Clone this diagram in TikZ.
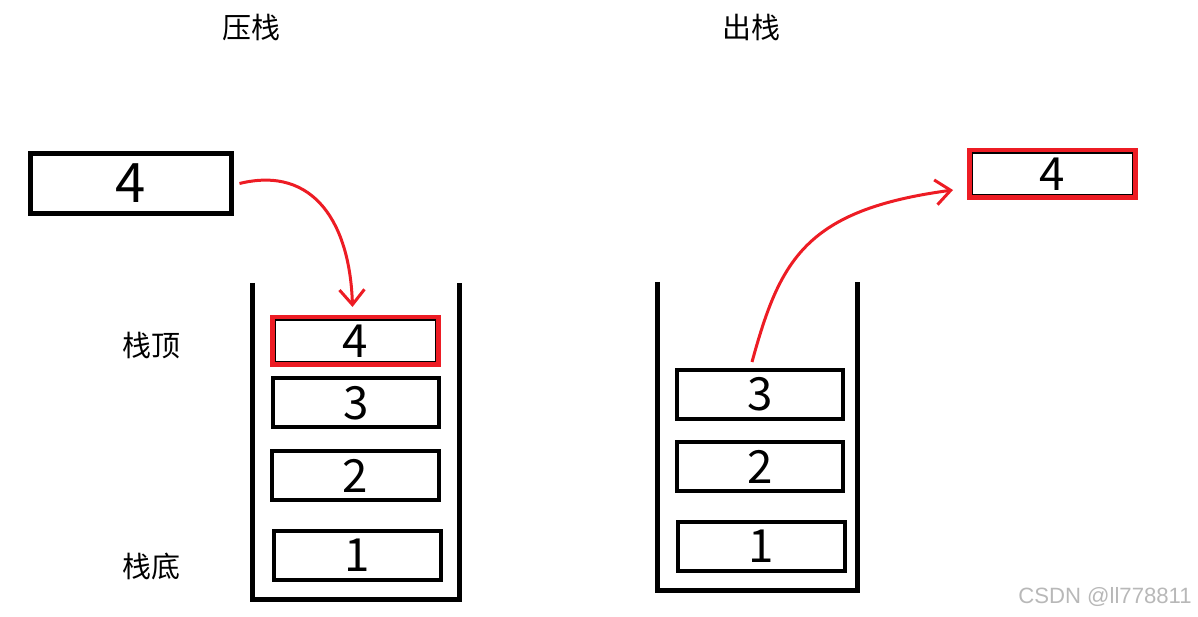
\documentclass[tikz,border=0pt]{standalone}
\usepackage{fontspec}
\usepackage{tikz}
\usetikzlibrary{arrows.meta,positioning,calc}
\usepackage{xcolor}
\newfontfamily\cjk{Noto Sans CJK SC}
\newfontfamily\wmfont{Liberation Sans}
\definecolor{paintred}{RGB}{237,28,36}
\tikzset{
  cell/.style    ={draw, minimum width=3.34cm, minimum height=0.98cm,
                   inner sep=0pt, line width=0.08cm,
                   font=\cjk\fontsize{26}{28}\selectfont},
  topcell/.style ={draw=paintred, minimum width=3.33cm, minimum height=0.95cm,
                   inner sep=0pt, line width=0.09cm,
                   font=\cjk\fontsize{26}{28}\selectfont,
                   path picture={\draw[black, line width=0.03cm]
                     ([shift={(0.055cm,-0.055cm)}]path picture bounding box.north west)
                     rectangle
                     ([shift={(-0.055cm,0.055cm)}]path picture bounding box.south east);}},
  inbox/.style   ={draw, minimum width=4.04cm, minimum height=1.2cm,
                   inner sep=0pt, line width=0.1cm,
                   font=\cjk\fontsize{31}{33}\selectfont},
  wall/.style    ={line width=0.1cm},
  mv/.style      ={-{Straight Barb[length=3mm,width=5mm]}, line width=0.06cm,
                   paintred},
  capt/.style    ={font=\cjk\fontsize{16.5}{18}\selectfont},
  lab/.style     ={font=\cjk\fontsize{16.5}{18}\selectfont},
  wmark/.style   ={font=\wmfont\fontsize{12.6}{14}\selectfont, text=black!28},
}
\begin{document}
\begin{tikzpicture}[x=0.02cm, y=-0.02cm]
  \useasboundingbox (0,0) rectangle (1198,617);
  % push side
  \node[capt] (pushT) at (251.5,27.5) {压栈};
  \node[inbox] (in4) at (131,183.5) {4};
  \draw[wall] (252.5,283) |- (459.5,599.5) -- (459.5,283);
  \node[topcell] (l4) at (355.5,341) {4};
  \node[cell] (l3) at (356,403) {3};
  \node[cell] (l2) at (355.5,476) {2};
  \node[cell] (l1) at (357.5,555.5) {1};
  \node[lab] (topL) at (151.5,346) {栈顶};
  \node[lab] (botL) at (151.5,566.5) {栈底};
  \coordinate (pushS) at ($(in4.east)+(5,0)$);
  \coordinate (pushE) at ($(l4.north)+(-3,-8)$);
  \draw[mv] (pushS) .. controls (315,165) and (350,225) .. (pushE);
  % pop side
  \node[capt] (popT) at (751.5,27.5) {出栈};
  \draw[wall] (657.5,282) |- (857.5,590.5) -- (857.5,282);
  \node[cell] (r3) at (760,394.5) {3};
  \node[cell] (r2) at (760,466.5) {2};
  \node[cell] (r1) at (761.5,546.5) {1};
  \node[topcell] (o4) at (1052.5,174) {4};
  \coordinate (popS) at ($(r3.north)+(-8,-6)$);
  \coordinate (popE) at ($(o4.west)+(-14,16)$);
  \draw[mv] (popS) .. controls (780,260) and (805,210) .. (popE);
  \node[wmark] (wm) at (1105,597) {CSDN @ll778811};
\end{tikzpicture}
\end{document}
